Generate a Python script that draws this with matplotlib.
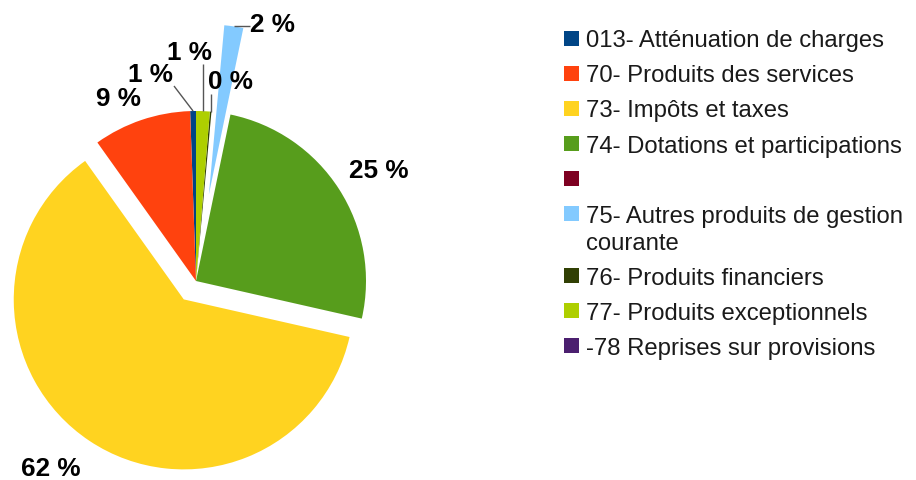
import matplotlib
matplotlib.use("Agg")
import matplotlib.pyplot as plt
from matplotlib.patches import Rectangle
import numpy as np

# ---- data ----
categories = [
    "013- Atténuation de charges",
    "70- Produits des services",
    "73- Impôts et taxes",
    "74- Dotations et participations",
    "",
    "75- Autres produits de gestion\ncourante",
    "76- Produits financiers",
    "77- Produits exceptionnels",
    "-78 Reprises sur provisions",
]
shares = [0.55, 9.3, 61.6, 25.3, None, 1.8, 0.15, 1.3, None]
colors = ["#004586", "#ff420e", "#ffd320", "#579d1c", "#7e0021",
          "#83caff", "#314004", "#aecf00", "#4b1f6f"]

# ---- layout (pixel units, image coords: y down) ----
W, H = 916, 481
cx, cy_img, R = 196, 282, 170
explode_frac = [0, 0, 0.13, 0, 0, 0.514, 0, 0, 0]
# label baseline-centre positions (x centre, baseline y) in image coords
label_pos = {0: (150, 82), 1: (119, 106), 2: (50.5, 476), 3: (379, 178),
             5: (272.5, 32), 6: (230.5, 89), 7: (189.5, 60)}
# leader line end points (None -> same as start coordinate)
leader_end = {0: (174, 87), 7: (None, 65), 6: (None, 95), 5: (250, None)}

def Y(y):
    return H - y

plt.rcParams['font.family'] = ['Liberation Sans', 'DejaVu Sans']
fig = plt.figure(figsize=(W / 100, H / 100), dpi=100)
ax = fig.add_axes([0, 0, 1, 1])

vals = np.array([0.0 if v is None else v for v in shares])
total = vals.sum()
wedges = ax.pie(vals, colors=colors, startangle=90, counterclock=True,
                explode=[e * R for e in explode_frac], radius=R,
                center=(cx, Y(cy_img)), normalize=True,
                wedgeprops=dict(linewidth=0))[0]
ax.set_xlim(0, W)
ax.set_ylim(0, H)
ax.set_aspect('equal')
ax.axis('off')

lab_fs = 18.8
for i, v in enumerate(shares):
    if v is None:
        continue
    pct = int(round(v / total * 100))
    x, yb = label_pos[i]
    ax.text(x, Y(yb), f"{pct} %", ha='center', va='baseline',
            fontsize=lab_fs, fontweight='bold', color='black')
    if i in leader_end:
        w = wedges[i]
        tm = np.deg2rad(0.5 * (w.theta1 + w.theta2))
        sx = w.center[0] + R * np.cos(tm)
        sy = w.center[1] + R * np.sin(tm)
        ex, ey = leader_end[i]
        ex = sx if ex is None else ex
        ey = sy if ey is None else Y(ey)
        ax.plot([sx, ex], [sy, ey], color='#555555', lw=1,
                solid_capstyle='butt')

# ---- legend (manual, LibreOffice style) ----
leg_fs = 17.2
row_y = 39
for i, (name, col) in enumerate(zip(categories, colors)):
    ax.add_patch(Rectangle((564, Y(row_y + 7.5)), 15, 15, facecolor=col,
                           edgecolor='none'))
    lines = name.split("\n")
    for k, ln in enumerate(lines):
        if ln:
            ax.text(586, Y(row_y + 8.5 + k * 27.4), ln, ha='left',
                    va='baseline', fontsize=leg_fs, color='#1a1a1a')
    row_y += 35 + 27.4 * (len(lines) - 1)

fig.savefig("out.png", dpi=100)
